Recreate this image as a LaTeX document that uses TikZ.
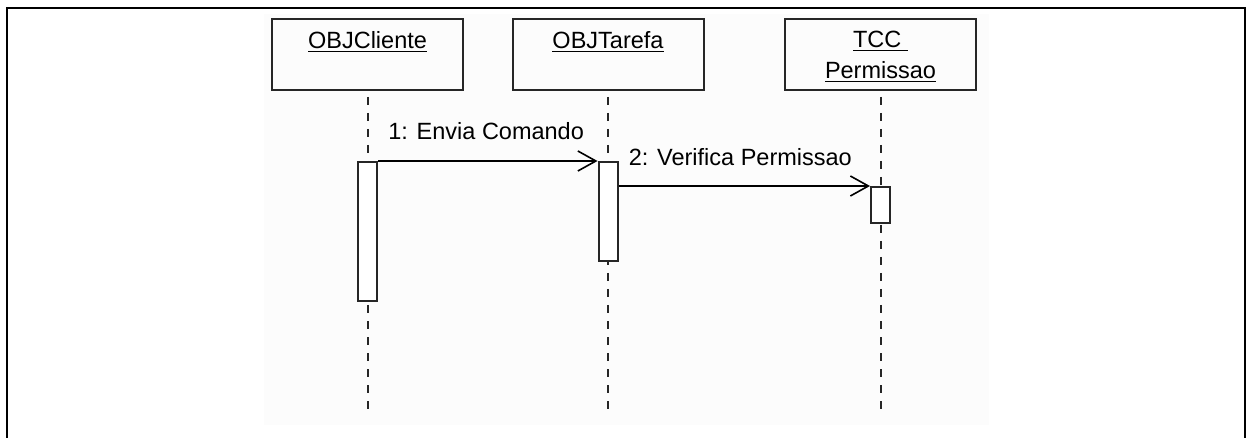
\documentclass[tikz,border=0pt]{standalone}
\usepackage{fontspec}
\setmainfont{Liberation Sans}
\usetikzlibrary{positioning,arrows.meta}
\tikzset{
  objbox/.style={rectangle, draw=black!85, line width=1pt, minimum width=95.5pt, minimum height=35.5pt, inner sep=0pt},
  objname/.style={inner sep=0pt, align=center, font=\fontsize{11.75}{15.5}\selectfont},
  actbar/.style={rectangle, draw=black!85, fill=white, line width=1pt, minimum width=9.5pt, inner sep=0pt},
  lifeline/.style={draw=black!85, line width=1pt, dash pattern=on 4pt off 4pt},
  msg/.style={-{Straight Barb[length=9pt,width=10pt]}, line width=0.8pt},
  msglabel/.style={inner sep=0pt, font=\fontsize{11.75}{14}\selectfont}
}

\begin{document}
\begin{tikzpicture}[x=0.5pt, y=-0.5pt]
  \useasboundingbox (0,0) rectangle (1247,438);
  \fill[black!1] (264,14) rectangle (989,425);
  \draw[line width=1.2pt] (7,445) -- (7,8) -- (1245,8) -- (1245,445);

  % objects
  \node[objbox] (cliente) at (367.5,54.5) {};
  \node[objbox] (tarefa) at (608,54.5) {};
  \node[objbox] (perm) at (880.5,54.5) {};
  \node[objname, below=6.5pt of cliente.north] (nomecliente) {\underline{OBJCliente}};
  \node[objname, below=6.5pt of tarefa.north] (nometarefa) {\underline{OBJTarefa}};
  \node[objname, below=6.5pt of perm.north] (nomeperm) {\underline{TCC\ }\\\underline{Permissao}};

  % lifelines
  \coordinate (fim) at (0,415);
  \foreach \o in {cliente,tarefa,perm}
    \draw[lifeline] ([yshift=-3pt]\o.south) -- (\o.south |- fim);

  % activations
  \node[actbar, minimum height=69.5pt] (actcliente) at (367.5,231.5) {};
  \node[actbar, minimum height=49.5pt] (acttarefa) at (608,211.5) {};
  \node[actbar, minimum height=18pt] (actperm) at (880.5,205) {};

  % messages
  \draw[msg] (actcliente.north east) -- (acttarefa.north west);
  \node[msglabel, anchor=base west] (msg1) at ([xshift=5pt,yshift=10.5pt]actcliente.north east) {1: Envia Comando};
  \draw[msg] (acttarefa.east |- actperm.north) -- (actperm.north west);
  \node[msglabel, anchor=base west] (msg2) at ([xshift=5pt,yshift=10pt]acttarefa.east |- actperm.north) {2: Verifica Permissao};
\end{tikzpicture}
\end{document}
